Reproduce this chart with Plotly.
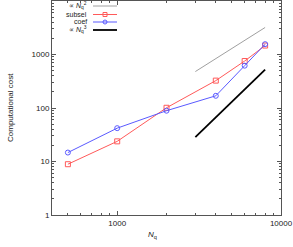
import plotly.graph_objects as go
import math

# Data
nq = [500, 1000, 2000, 4000, 6000, 8000]
subsel = [8.9, 23.8, 101, 325, 755, 1470]
coef = [14.7, 42, 89, 169, 618, 1560]
ref2_x = [3000, 8000]
ref2_y = [480, 3200]
ref3_x = [3000, 8000]
ref3_y = [28.6, 520]

x_ticks = [1000, 10000]
x_ticklabels = ["1000", "10000"]
y_ticks = [1, 10, 100, 1000, 10000]
y_ticklabels = ["1", "10", "100", "1000", "10000"]

legend_labels = ["\u221d <i>N</i><sub>q</sub><sup>2</sup>", "subsel", "coef", "\u221d <i>N</i><sub>q</sub><sup>3</sup>"]

RED = "#ff5a5a"
BLUE = "#5a5aff"
GRAY = "#a0a0a0"
BLACK = "#000000"
AX = "#555555"
TXT = "#222222"

W, H = 293, 247
L, R, T, B = 52, 12, 1, 32

fig = go.Figure()
fig.add_trace(go.Scatter(x=ref2_x, y=ref2_y, mode="lines", line=dict(color=GRAY, width=1), showlegend=False))
fig.add_trace(go.Scatter(x=nq, y=subsel, mode="lines+markers", line=dict(color=RED, width=1),
                         marker=dict(symbol="square-open", size=5, color=RED, line=dict(width=1)), showlegend=False))
fig.add_trace(go.Scatter(x=nq, y=coef, mode="lines+markers", line=dict(color=BLUE, width=1),
                         marker=dict(symbol="circle-open", size=5, color=BLUE, line=dict(width=1)), showlegend=False))
fig.add_trace(go.Scatter(x=ref3_x, y=ref3_y, mode="lines", line=dict(color=BLACK, width=1.8), showlegend=False))

def minor_vals(lo, hi):
    vals = []
    for d in range(lo, hi):
        for k in range(2, 10):
            vals.append(k * 10 ** d)
    return vals

axis_common = dict(type="log", showline=True, linecolor=AX, linewidth=1, mirror="ticks",
                   ticks="inside", ticklen=4, tickcolor=AX, showgrid=False, zeroline=False, automargin=False,
                   tickfont=dict(family="Liberation Sans", size=8, color=TXT))

fig.update_xaxes(**axis_common, range=[math.log10(400), 4], tickvals=x_ticks, ticktext=x_ticklabels,
                 minor=dict(tickvals=[v for v in minor_vals(2, 4) if v >= 400], ticks="inside", ticklen=2, tickcolor=AX))
fig.update_yaxes(**axis_common, range=[0, 4], tickvals=y_ticks, ticktext=y_ticklabels,
                 minor=dict(tickvals=minor_vals(0, 4), ticks="inside", ticklen=2, tickcolor=AX))

pw = W - L - R
ph = H - T - B
def px(xp):
    return (xp - L) / pw
def py(yp):
    return 1 - (yp - T) / ph

# Axis titles
fig.add_annotation(x=px(152), y=py(235), xref="paper", yref="paper", text="<i>N</i><sub>q</sub>", showarrow=False,
                   xanchor="center", yanchor="middle", font=dict(family="Liberation Sans", size=8, color=TXT))
fig.add_annotation(x=px(10), y=py(108), xref="paper", yref="paper", text="Computational cost", showarrow=False,
                   textangle=-90, xanchor="center", yanchor="middle", font=dict(family="Liberation Sans", size=8, color=TXT))

# Manual legend (symbol to the right of text)
rows = [6, 14.5, 22, 30]
colors = [GRAY, RED, BLUE, BLACK]
widths = [1, 1, 1, 1.8]
for i, (lab, yy) in enumerate(zip(legend_labels, rows)):
    fig.add_annotation(x=px(89), y=py(yy), xref="paper", yref="paper", text=lab, showarrow=False,
                       xanchor="right", yanchor="middle", font=dict(family="Liberation Sans", size=7, color=TXT))
    fig.add_shape(type="line", xref="paper", yref="paper", x0=px(93), x1=px(117), y0=py(yy), y1=py(yy),
                  line=dict(color=colors[i], width=widths[i]))
fig.add_shape(type="rect", xref="paper", yref="paper", x0=px(103), x1=px(107), y0=py(rows[1] - 2), y1=py(rows[1] + 2),
              line=dict(color=RED, width=1))
fig.add_shape(type="circle", xref="paper", yref="paper", x0=px(103), x1=px(107), y0=py(rows[2] - 2), y1=py(rows[2] + 2),
              line=dict(color=BLUE, width=1))

fig.update_layout(width=W, height=H, margin=dict(l=L, r=R, t=T, b=B, autoexpand=False), plot_bgcolor="white",
                  paper_bgcolor="white", font=dict(family="Liberation Sans", size=8))
fig.write_html("out.html", config={"displayModeBar": False},
               post_script="document.body.style.margin='0';document.body.style.overflow='hidden';")
